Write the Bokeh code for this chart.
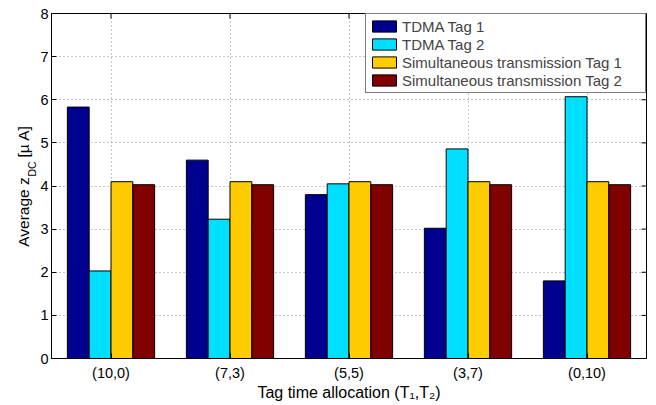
import math
from bokeh.plotting import figure
from bokeh.models import (FactorRange, Range1d, Legend, LegendItem, Label,
                          FixedTicker, ColumnDataSource)
from bokeh.transform import dodge
from bokeh.embed import file_html
from bokeh.resources import INLINE

# ---- data ----
categories = ["(10,0)", "(7,3)", "(5,5)", "(3,7)", "(0,10)"]
tdma_tag1 = [5.83, 4.60, 3.80, 3.02, 1.80]
tdma_tag2 = [2.03, 3.23, 4.05, 4.86, 6.07]
sim_tag1 = [4.10, 4.10, 4.10, 4.10, 4.10]
sim_tag2 = [4.03, 4.03, 4.03, 4.03, 4.03]
series_names = ["TDMA Tag 1", "TDMA Tag 2",
                "Simultaneous transmission Tag 1", "Simultaneous transmission Tag 2"]
series_keys = ["tdma1", "tdma2", "sim1", "sim2"]
colors = ["#00008F", "#00DFFF", "#FFCC00", "#800000"]
y_ticks = [0, 1, 2, 3, 4, 5, 6, 7, 8]
Y_MIN, Y_MAX = 0, 8
x_label = "Tag time allocation (T\u2081,T\u2082)"
y_label_main = "Average z"
y_label_sub = "DC"
y_label_tail = " [µ A]"

FONT = "Liberation Sans"
W, H = 656, 405
BL, BR, BT, BB = 51, 10, 13, 47
FW, FH = W - BL - BR, H - BT - BB
NCAT = len(categories)
PX_X = FW / NCAT             # pixels per categorical unit
PX_Y = FH / (Y_MAX - Y_MIN)  # pixels per y unit
TICK = 5                     # tick length, px

src = ColumnDataSource(dict(cat=categories, tdma1=tdma_tag1, tdma2=tdma_tag2,
                            sim1=sim_tag1, sim2=sim_tag2))

p = figure(width=W, height=H, x_range=FactorRange(*categories, range_padding=0),
           y_range=Range1d(Y_MIN, Y_MAX), output_backend="svg", toolbar_location=None,
           min_border_left=BL, min_border_right=BR, min_border_top=BT,
           min_border_bottom=BB, background_fill_color="white",
           border_fill_color="white")
p.outline_line_color = "black"
p.outline_line_width = 1

# grid
for g in (p.xgrid, p.ygrid):
    g.grid_line_color = "#8c8c8c"
    g.grid_line_dash = "1 3"
    g.grid_line_width = 1
p.yaxis.ticker = FixedTicker(ticks=y_ticks)

# ---- text metrics (Arial / Liberation Sans advance widths) ----
AW = {"A": .667, "v": .5, "e": .556, "r": .333, "a": .556, "g": .556, " ": .278,
      "z": .5, "D": .722, "C": .722, "[": .278, "µ": .576, "]": .278,
      "\u2002": .5}


def tw(s, size):
    return sum(AW.get(ch, .556) for ch in s) * size


MS, SS = 15.5, 10.5
GAP = "\u2002\u2002"
y_axis_text = y_label_main + GAP + y_label_tail

# axes styling
for ax in (p.xaxis, p.yaxis):
    ax.axis_line_color = "black"
    ax.major_tick_in = TICK
    ax.major_tick_out = 0
    ax.minor_tick_line_color = None
    ax.major_label_text_font = FONT
    ax.major_label_text_font_size = "14.5px"
    ax.major_label_text_color = "black"
    ax.major_tick_line_color = "black"
    ax.axis_label_text_font = FONT
    ax.axis_label_text_font_style = "normal"
    ax.axis_label_text_color = "black"
p.xaxis.major_label_standoff = 6
p.yaxis.major_label_standoff = 3
p.xaxis.axis_label = x_label
p.xaxis.axis_label_text_font_size = "16px"
p.xaxis.axis_label_standoff = 0
p.yaxis.axis_label = y_axis_text
p.yaxis.axis_label_text_font_size = f"{MS}px"
p.yaxis.axis_label_standoff = 5

# bars
bw = 0.1833
offsets = [-1.5 * bw, -0.5 * bw, 0.5 * bw, 1.5 * bw]
renderers = []
for key, off, col in zip(series_keys, offsets, colors):
    r = p.vbar(x=dodge("cat", off, range=p.x_range), top=key, width=bw, bottom=0,
               source=src, fill_color=col, line_color="black", line_width=1)
    renderers.append(r)

# mirrored inward ticks on the top and right edges of the box
p.segment(x0=categories, x1=categories, y0=[Y_MAX] * NCAT,
          y1=[Y_MAX - TICK / PX_Y] * NCAT, line_color="black", line_width=1)
p.segment(x0=[float(NCAT)] * len(y_ticks), x1=[NCAT - TICK / PX_X] * len(y_ticks),
          y0=y_ticks, y1=y_ticks, line_color="black", line_width=1)

legend = Legend(items=[LegendItem(label=n, renderers=[r]) for n, r in zip(series_names, renderers)],
                location="top_right", margin=0, padding=3, spacing=0,
                glyph_width=30, glyph_height=14, label_height=18, label_width=240,
                label_standoff=3, label_text_font=FONT, label_text_font_size="15px",
                border_line_color="black", border_line_width=1,
                background_fill_color="white", background_fill_alpha=1)
p.add_layout(legend)

# subscript "DC" placed in the gap of the y-axis label (side panel => not clipped)
y_total = tw(y_axis_text, MS)
sub_start = FH / 2 - y_total / 2 + tw(y_label_main, MS) + 0.5
p.add_layout(Label(x=-20 / PX_X, y=Y_MIN + sub_start / PX_Y, text=y_label_sub,
                   angle=math.pi / 2, text_align="left", text_baseline="middle",
                   text_font=FONT, text_font_size=f"{SS}px", text_color="black"),
             "left")

open("out.html", "w").write(file_html(p, INLINE))
